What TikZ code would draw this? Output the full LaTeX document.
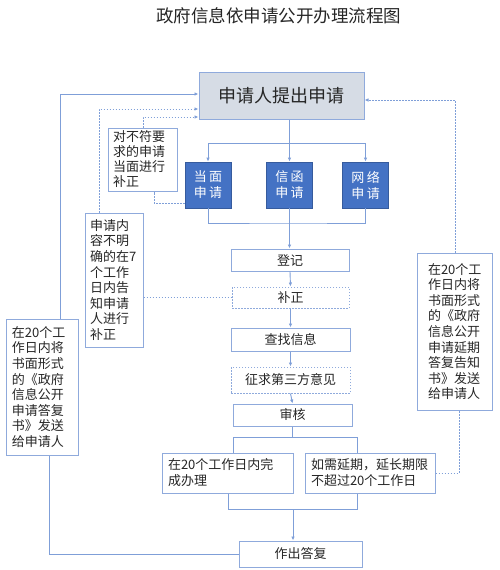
\documentclass[tikz,border=0pt]{standalone}
\usepackage{fontspec}
\setmainfont{Noto Sans CJK SC}
\usetikzlibrary{arrows.meta}
\definecolor{lnc}{HTML}{7F9FD8}
\definecolor{bdc}{HTML}{8FAADC}
\definecolor{bluc}{HTML}{4472C4}
\definecolor{gfill}{HTML}{D6DCE5}
\definecolor{txtc}{HTML}{262626}
\begin{document}
\begin{tikzpicture}[x=1pt,y=-1pt,
  every node/.style={text=txtc},
  wbox/.style={draw=bdc, line width=1pt, fill=white, inner sep=0pt, font=\fontsize{13}{15.6}\selectfont},
  dbox/.style={wbox, dash pattern=on 1.5pt off 1.5pt},
  bbox/.style={draw=bluc!80!black, line width=0.8pt, fill=bluc, text=white, inner sep=0pt, minimum width=46pt, minimum height=46pt, font=\fontsize{13}{16}\selectfont, align=center},
  note/.style={draw=bdc, line width=1pt, fill=white, align=left, font=\fontsize{13}{15.6}\selectfont, inner ysep=0pt},
  lnk/.style={draw=lnc, line width=0.9pt},
  dlnk/.style={lnk, dash pattern=on 1.5pt off 1.5pt},
  arr/.style={-{Latex[length=4pt,width=3.5pt]}},
]
\useasboundingbox (0,0) rectangle (499,570);
\node[font=\fontsize{17.5}{20}\selectfont] (title) at (278.5,16) {政府信息依申请公开办理流程图};

\node[draw=bdc, line width=1pt, fill=gfill, minimum width=165pt, minimum height=47pt, inner sep=0pt, font=\fontsize{18}{20}\selectfont] (main) at (281.5,95.5) {申请人提出申请};

\node[bbox] (dm) at (208,185) {当\hspace{2.5pt}面\\申\hspace{2.5pt}请};
\node[bbox] (xh) at (289.5,185) {信\hspace{2.5pt}函\\申\hspace{2.5pt}请};
\node[bbox] (wl) at (365.5,185) {网\hspace{2.5pt}络\\申\hspace{2.5pt}请};

\node[wbox, minimum width=118pt, minimum height=22pt] (dj) at (290,260) {登记};
\node[dbox, minimum width=117pt, minimum height=21pt] (bz) at (290.5,297.5) {补正};
\node[wbox, minimum width=119pt, minimum height=23pt] (cz) at (290.5,339.5) {查找信息};
\node[dbox, minimum width=119pt, minimum height=26pt] (zq) at (290.5,380) {征求第三方意见};
\node[wbox, minimum width=119pt, minimum height=22pt] (sh) at (292.5,415) {审核};

\node[note, inner xsep=6pt, text width=119pt, minimum height=40pt, font=\fontsize{13}{16}\selectfont] (wc) at (227.5,473) {在20个工作日内完\\成办理};
\node[note, inner xsep=6pt, text width=118pt, minimum height=40pt, font=\fontsize{13}{16}\selectfont] (yq) at (370,473) {如需延期，延长期限\\不超过20个工作日};
\node[wbox, minimum width=123pt, minimum height=26pt] (zd) at (300.5,554) {作出答复};

\node[note, inner xsep=5pt, text width=59pt, minimum height=63pt, font=\fontsize{13}{15}\selectfont] (n1) at (142.5,159.5) {对不符要\\求的申请\\当面进行\\补正};
\node[note, inner xsep=5pt, text width=48pt, minimum height=134pt] (n2) at (114,280) {申请内\\容不明\\确的在7\\个工作\\日内告\\知申请\\人进行\\补正};
\node[note, inner xsep=6pt, text width=60pt, minimum height=136pt] (n3) at (42,387) {在20个工\\作日内将\\书面形式\\的《政府\\信息公开\\申请答复\\书》发送\\给申请人};
\node[note, inner xsep=11pt, text width=53pt, minimum height=157pt] (n4) at (454.5,331.5) {在20个工\\作日内将\\书面形式\\的《政府\\信息公开\\申请延期\\答复告知\\书》发送\\给申请人};

% main flow
\coordinate (s1) at (289.5,143);
\draw[lnk] (main.south -| s1) -- (s1);
\draw[lnk] (s1 -| dm.north) -- (s1 -| wl.north);
\draw[lnk,arr] (s1 -| dm.north) -- (dm.north);
\draw[lnk,arr] (s1) -- (xh.north);
\draw[lnk,arr] (s1 -| wl.north) -- (wl.north);
\coordinate (s2) at (289.5,223);
\draw[lnk] (dm.south) |- (s2) -| (wl.south);
\draw[lnk,arr] (xh.south) -- (xh.south |- dj.north);
\draw[lnk,arr] (dj.south) -- (bz.north);
\draw[lnk,arr] (bz.south) -- (cz.north);
\draw[lnk,arr] (cz.south) -- (zq.north);
\draw[lnk,arr] (zq.south) -- (sh.north);
\coordinate (s3l) at (233,437);
\coordinate (s3r) at (357,437);
\draw[lnk] (sh.south) -- (sh.south |- s3l);
\draw[lnk] (s3l |- wc.north) -- (s3l) -- (s3r) -- (s3r |- yq.north);
\coordinate (s4l) at (228,509);
\coordinate (s4r) at (357,509);
\coordinate (s4) at (293,509);
\draw[lnk] (s4l |- wc.south) -- (s4l) -- (s4r) -- (s4r |- yq.south);
\draw[lnk,arr] (s4) -- (s4 |- zd.north);

% side connectors
\draw[dlnk] (n2.east |- bz.west) -- (bz.west);
\coordinate (c7) at (99,109);
\draw[dlnk,arr] (c7 |- n2.north) -- (c7) -- (c7 -| main.west);
\coordinate (c8) at (143,117);
\draw[dlnk,arr] (c8 |- n1.north) -- (c8) -- (c8 -| main.west);
\coordinate (c9) at (154,203);
\draw[dlnk] (c9 -| dm.west) -- (c9) -- (c9 |- n1.south);
\coordinate (c10) at (60,94);
\draw[lnk,arr] (c10 |- n3.north) -- (c10) -- (c10 -| main.west);
\coordinate (c11) at (49,554);
\draw[lnk] (zd.west) -- (c11 |- zd.west) -- (c11 |- n3.south);
\coordinate (c12) at (459,473);
\draw[dlnk] (yq.east) -- (c12) -- (c12 |- n4.south);
\coordinate (c13) at (455,100);
\draw[dlnk,arr] (c13 |- n4.north) -- (c13) -- (c13 -| main.east);
\end{tikzpicture}
\end{document}
